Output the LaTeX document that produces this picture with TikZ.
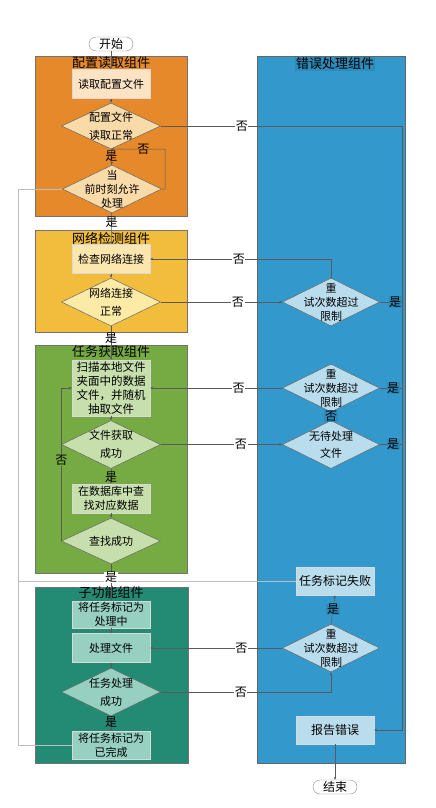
\documentclass[tikz,border=0pt]{standalone}
\usepackage{fontspec}
\setmainfont{Noto Sans CJK SC}
\usetikzlibrary{shapes.geometric,arrows.meta}
\definecolor{corange}{HTML}{E6892A}
\definecolor{corangebox}{HTML}{FCE3C3}
\definecolor{corangedia}{HTML}{F9DAA9}
\definecolor{cyellow}{HTML}{F2BD3D}
\definecolor{cyellowbox}{HTML}{FBE7AE}
\definecolor{cyellowdia}{HTML}{FCEBA6}
\definecolor{cgreen}{HTML}{76AB43}
\definecolor{cgreenbox}{HTML}{C6DFAD}
\definecolor{cteal}{HTML}{238B73}
\definecolor{ctealbox}{HTML}{97CFC1}
\definecolor{cblue}{HTML}{3399CC}
\definecolor{cbluedark}{HTML}{2E8BBA}
\definecolor{cbluebox}{HTML}{BADDEE}
\definecolor{cline}{HTML}{5A5A5A}
\definecolor{clight}{HTML}{BDBDBD}
\begin{document}
\begin{tikzpicture}[x=1pt,y=-1pt,
  cont/.style={draw=black!55, line width=0.5pt, inner sep=0pt},
  ttl/.style={font=\fontsize{13}{13}\selectfont, inner sep=1pt},
  boxn/.style={draw=white!70!gray, line width=0.4pt, minimum width=78pt, minimum height=29pt, inner sep=0pt, align=center, font=\fontsize{11}{14}\selectfont},
  dia/.style={diamond, draw=black!60, line width=0.5pt, minimum width=99pt, minimum height=48pt, inner sep=0pt},
  dtwo/.style={align=center, font=\fontsize{11}{18}\selectfont, inner sep=0pt},
  dthree/.style={align=center, font=\fontsize{11}{14}\selectfont, inner sep=0pt},
  term/.style={draw=black!45, fill=white, rounded corners=7pt, minimum width=44pt, minimum height=14pt, inner sep=0pt, font=\fontsize{12}{12}\selectfont},
  lbl/.style={font=\fontsize{12}{12}\selectfont, inner sep=0.6pt},
  lblw/.style={lbl, fill=white},
  lblb/.style={lbl, fill=cbluedark},
  arr/.style={draw=cline, line width=0.5pt, -{Stealth[length=3pt,width=2.6pt]}},
  ln/.style={draw=cline, line width=0.5pt},
  gline/.style={draw=clight, line width=0.9pt}
]
\useasboundingbox (0,0) rectangle (436,808);
\fill[white] (0,0) rectangle (436,808);

% containers
\node[cont, fill=corange, minimum width=152pt, minimum height=160pt] (c1) at (111,136) {};
\node[cont, fill=cyellow, minimum width=152pt, minimum height=102pt] (c2) at (111,281) {};
\node[cont, fill=cgreen, minimum width=152pt, minimum height=228pt] (c3) at (111,459) {};
\node[cont, fill=cteal, minimum width=153pt, minimum height=176pt] (c4) at (111.5,675) {};
\node[cont, draw=black!60, fill=cblue, minimum width=148pt, minimum height=707pt] (c5) at (331,409.5) {};

\node[ttl] (t1) at (111,63) {配置读取组件};
\node[ttl] (t2) at (111,238) {网络检测组件};
\node[ttl] (t3) at (111,352) {任务获取组件};
\node[ttl] (t4) at (111,593) {子功能组件};
\node[ttl, fill=cbluedark] (t5) at (335,64) {错误处理组件};

% left column
\node[term] (start) at (111,44) {开始};
\node[boxn, fill=corangebox] (b1) at (111,84) {读取配置文件};
\node[dia, fill=corangedia, minimum height=46pt, label={[dtwo]center:{配置文件\\读取正常}}] (d1) at (111,126) {};
\node[dia, fill=corangedia, label={[dthree]center:{当\\前时刻允许\\处理}}] (d2) at (112,189) {};
\node[boxn, fill=cyellowbox] (b2) at (111,259) {检查网络连接};
\node[dia, fill=cyellowdia, label={[dtwo]center:{网络连接\\正常}}] (d3) at (111,302) {};
\node[boxn, fill=cgreenbox, minimum height=56pt, font=\fontsize{11.5}{14}\selectfont] (b3) at (111,388) {扫描本地文件\\夹面中的数据\\文件，并随机\\抽取文件};
\node[dia, fill=cgreenbox, label={[dtwo]center:{文件获取\\成功}}] (d4) at (111,444.5) {};
\node[boxn, fill=cgreenbox] (b4) at (111,498.5) {在数据库中查\\找对应数据};
\node[dia, fill=cgreenbox, minimum height=46pt, label={[dthree]center:{查找成功}}] (d5) at (111,541) {};
\node[boxn, fill=ctealbox, minimum height=27pt] (b5) at (111,614.5) {将任务标记为\\处理中};
\node[boxn, fill=ctealbox] (b6) at (111,648) {处理文件};
\node[dia, fill=ctealbox, label={[dtwo]center:{任务处理\\成功}}] (d6) at (111,692) {};
\node[boxn, fill=ctealbox, minimum height=28pt] (done) at (111,745) {将任务标记为\\已完成};

% right column
\node[dia, fill=cbluebox, minimum width=97pt, label={[dthree]center:{重\\试次数超过\\限制}}] (r1) at (331,302) {};
\node[dia, fill=cbluebox, minimum width=97pt, label={[dthree]center:{重\\试次数超过\\限制}}] (r2) at (331,388) {};
\node[dia, fill=cbluebox, minimum width=97pt, label={[dthree, font=\fontsize{11}{17}\selectfont]center:{无待处理\\文件}}] (nf) at (331,444.5) {};
\node[dia, fill=cbluebox, minimum width=97pt, label={[dthree]center:{重\\试次数超过\\限制}}] (r3) at (331,648) {};
\node[boxn, fill=cbluebox, minimum height=28pt, font=\fontsize{12}{14}\selectfont] (fail) at (335,581) {任务标记失败};
\node[boxn, fill=cbluebox, minimum height=28pt, font=\fontsize{12}{14}\selectfont] (report) at (335,730) {报告错误};
\node[term] (end) at (335,787) {结束};

% connectors
\draw[arr] (start) -- (b1);
\draw[arr] (b1) -- (d1);
\draw[arr] (d1) -- node[lbl, pos=0.45] {是} (d2);
\draw[arr] (d2.east) -- (165,189) -- (165,149) -- node[lbl, pos=0.4] {否} (d1.south);
\draw[arr] (d1.east) -- node[lblw, pos=0.336] {否} (402,126) -- (402,730) -- (report.east);
\draw[arr] (d2) -- node[lbl, pos=0.3] {是} (b2);
\draw[arr] (b2) -- (d3);
\draw[arr] (d3.east) -- node[lblw, pos=0.635] {否} (r1.west);
\draw[arr] (r1.north) -- (331,259) -- node[lblw, pos=0.51] {否} (b2.east);
\draw[ln] (r1.east) -- node[lblb, pos=0.69] {是} (402,302);
\draw[arr] (d3) -- node[lbl, pos=0.35] {是} (b3);
\draw[arr] (b3) -- (d4);
\draw[arr] (d4.east) -- node[lblw, pos=0.66] {否} (nf.west);
\draw[arr] (nf) -- node[lblb, midway] {否} (r2);
\draw[arr] (r2.west) -- node[lblw, pos=0.33] {否} (b3.east);
\draw[ln] (r2.east) -- node[lblb, pos=0.6] {是} (402,388);
\draw[ln] (nf.east) -- node[lblb, pos=0.6] {是} (402,444.5);
\draw[arr] (d4) -- node[lbl, pos=0.55] {是} (b4);
\draw[arr] (b4) -- (d5);
\draw[arr] (d5.west) -- node[lbl, fill=cgreen, pos=0.53] {否} (d5.west |- b3.west) -- (b3.west);
\draw[gline] (done.west) -- (18,745) -- (18,581);
\draw[gline, -{Stealth[length=3pt,width=2.6pt]}] (fail.west) -- (18,581) -- (18,189) -- (d2.west);
\draw[arr] (d5) -- node[lblw, pos=0.36] {是} (b5);
\draw[arr] (b5) -- (b6);
\draw[arr] (b6) -- (d6);
\draw[arr] (d6) -- node[lbl, pos=0.4] {是} (done);
\draw[arr] (d6.east) -- node[lblw, pos=0.47] {否} (331,692) -- (r3.south);
\draw[arr] (r3.west) -- node[lblw, pos=0.31] {否} (b6.east);
\draw[arr] (r3.north) -- node[lblb, midway] {是} (fail.south);
\draw[arr] (report) -- (end);
\end{tikzpicture}
\end{document}
